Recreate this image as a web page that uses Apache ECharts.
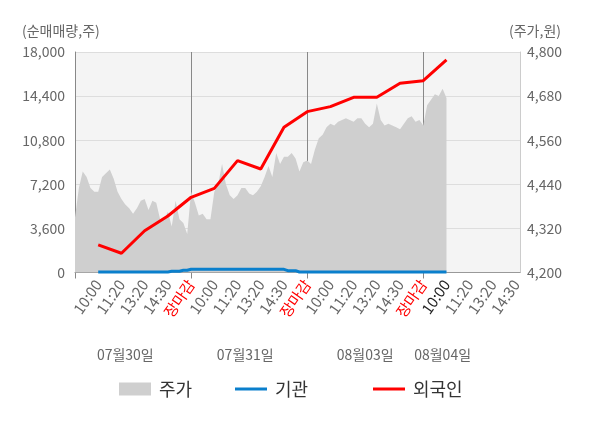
<!DOCTYPE html>
<html>
<head>
<meta charset="utf-8">
<script src="https://cdn.jsdelivr.net/npm/echarts@6/dist/echarts.min.js"></script>
<style>
html,body{margin:0;padding:0;background:#fff;}
#chart{width:600px;height:428px;}
</style>
</head>
<body>
<div id="chart"></div>
<script>
// tick labels under the x axis, one per slot
const tickLabels=['10:00','11:20','13:20','14:30','장마감',
	'10:00','11:20','13:20','14:30','장마감',
	'10:00','11:20','13:20','14:30','장마감',
	'10:00','11:20','13:20','14:30'];
const dayLabels=['07월30일','07월31일','08월03일','08월04일'];

// 주가 (원), one value per point from the start
const price=[4350,4430,4475,4460,4430,4420,4420,4460,4470,4480,
	4455,4420,4400,4385,4375,4360,4375,4395,4400,4370,
	4395,4390,4345,4345,4365,4325,4395,4345,4335,4305,
	4420,4390,4355,4360,4345,4345,4420,4440,4495,4440,
	4410,4400,4410,4430,4430,4415,4410,4420,4435,4460,
	4490,4460,4525,4495,4515,4515,4525,4510,4475,4500,
	4505,4495,4535,4565,4575,4595,4605,4600,4610,4615,
	4620,4615,4610,4620,4620,4605,4595,4605,4660,4615,
	4600,4605,4600,4595,4590,4605,4620,4625,4610,4615,
	4600,4655,4670,4685,4680,4700,4675];

// 외국인 순매매량 (주), one value per labelled slot
const foreign=[2250,1570,3410,4610,6140,6870,9130,8450,11850,13130,13540,14300,14300,15450,15660,17350];

// 기관 순매매량 (주), per point from the first slot on
const inst=[40,40,40,40,40,40,40,40,40,40,40,40,40,40,40,40,40,40,40,
	100,100,100,180,180,
	260,260,260,260,260,260,260,260,260,260,260,260,260,260,260,260,260,260,260,260,260,260,260,260,260,
	150,150,150,
	40,40,40,40,40,40,40,40,40,40,40,40,40,40,40,40,40,40,40,40,
	40,40,40,40,40,40,40,40,40,40,40,40,40,40,40,40,40,40,40];

const leftTicks=[0,18000,3600];
const rightTicks=[4200,4800,120];

// layout
const SLOT=6;
const TOTAL=116;
const DAY=SLOT*5;
const dateAt=[13,44,75,95];
const lastIdx=96;

let cats=[];
let dateCats=[];
let foreignData=[];
let instData=[];
for(let i=0;i<TOTAL;i++){
	let k=i/SLOT;
	cats.push(i>0&&i%SLOT==0&&k<=tickLabels.length?tickLabels[k-1]:'');
	let d=dateAt.indexOf(i);
	dateCats.push(d>=0?dayLabels[d]:'');
	foreignData.push(i>0&&i%SLOT==0&&k<=foreign.length?foreign[k-1]:null);
	instData.push(i>=SLOT&&i-SLOT<inst.length?inst[i-SLOT]:null);
}

let chart=echarts.init(document.getElementById('chart'));
const font='"Noto Sans CJK KR","Noto Sans",sans-serif';

chart.setOption({
	animation:false,
	textStyle:{fontFamily:font},
	grid:{
		left:75,
		right:80,
		top:52,
		bottom:155.5,
		show:true,
		backgroundColor:'#f4f4f4',
		borderWidth:0,
		outerBoundsMode:'none',
	},
	graphic:[
		{type:'text',left:22,top:24,style:{text:'(순매매량,주)',fill:'#666',font:'14px '+font}},
		{type:'text',right:39,top:24,style:{text:'(주가,원)',fill:'#666',font:'14px '+font}},
	],
	legend:[
		{data:['주가'],left:114,top:375,icon:'rect',itemWidth:32,itemHeight:13,
			textStyle:{fontSize:18,color:'#333',padding:[0,0,0,3]}},
		{data:['기관'],left:230,top:375,icon:'rect',itemWidth:32,itemHeight:3,
			textStyle:{fontSize:18,color:'#333',padding:[0,0,0,3]}},
		{data:['외국인'],left:368,top:375,icon:'rect',itemWidth:32,itemHeight:3,
			textStyle:{fontSize:18,color:'#333',padding:[0,0,0,3]}},
	],
	xAxis:[
		{
			type:'category',
			data:cats,
			boundaryGap:false,
			axisLine:{lineStyle:{color:'#999'}},
			axisTick:{
				show:true,
				length:6,
				interval:function(i){return i%DAY==0;},
				lineStyle:{color:'#888'},
			},
			splitLine:{
				show:true,
				interval:function(i){return i>0&&i%DAY==0;},
				lineStyle:{color:'#888',width:1},
			},
			axisLabel:{
				interval:0,
				rotate:55,
				margin:9,
				fontSize:15,
				color:function(v,i){
					if(v=='장마감')return '#ff0000';
					return i==lastIdx?'#222':'#666';
				},
			},
		},
		{
			type:'category',
			data:dateCats,
			boundaryGap:false,
			position:'bottom',
			offset:67.5,
			axisLine:{show:false},
			axisTick:{show:false},
			splitLine:{show:false},
			axisLabel:{interval:0,fontSize:14,color:'#666'},
		},
	],
	yAxis:[
		{
			type:'value',
			min:leftTicks[0],
			max:leftTicks[1],
			interval:leftTicks[2],
			axisLine:{show:true,lineStyle:{color:'#888'}},
			axisTick:{show:false},
			splitLine:{lineStyle:{color:'#ddd'}},
			axisLabel:{
				margin:10,
				fontSize:14,
				color:'#666',
				formatter:function(v){return v.toLocaleString('en-US');},
			},
		},
		{
			type:'value',
			min:rightTicks[0],
			max:rightTicks[1],
			interval:rightTicks[2],
			axisLine:{show:true,lineStyle:{color:'#ccc'}},
			axisTick:{show:false},
			splitLine:{show:false},
			axisLabel:{
				margin:7,
				fontSize:14,
				color:'#666',
				formatter:function(v){return v.toLocaleString('en-US');},
			},
		},
	],
	series:[
		{
			name:'주가',
			type:'line',
			yAxisIndex:1,
			data:price,
			showSymbol:false,
			symbol:'none',
			lineStyle:{width:0},
			itemStyle:{color:'#cfcfcf'},
			areaStyle:{color:'#cfcfcf',opacity:1},
			z:1,
		},
		{
			name:'기관',
			type:'line',
			data:instData,
			showSymbol:false,
			symbol:'none',
			lineStyle:{width:3,color:'#0a7fcc'},
			itemStyle:{color:'#0a7fcc'},
			z:3,
		},
		{
			name:'외국인',
			type:'line',
			data:foreignData,
			connectNulls:true,
			showSymbol:false,
			symbol:'none',
			lineStyle:{width:3,color:'#ff0000'},
			itemStyle:{color:'#ff0000'},
			z:4,
		},
	],
});
</script>
</body>
</html>
